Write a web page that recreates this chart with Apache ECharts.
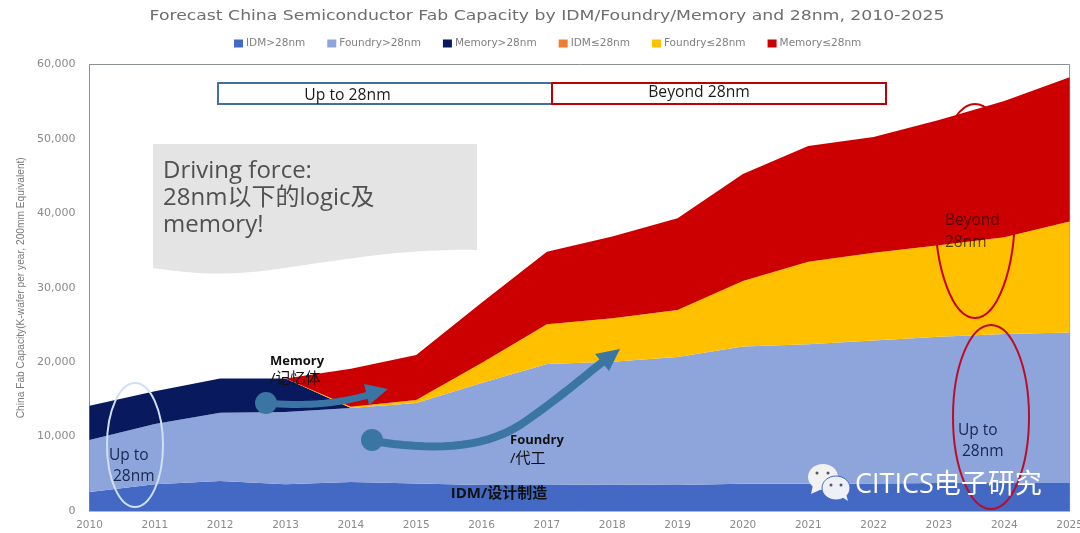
<!DOCTYPE html>
<html>
<head>
<meta charset="utf-8">
<style>html,body{margin:0;padding:0;background:#fff}#c{width:1080px;height:533px}</style>
<script src="https://cdn.jsdelivr.net/npm/echarts@6/dist/echarts.min.js"></script>
</head>
<body>
<div id="c"></div>
<script>
const years = ['2010','2011','2012','2013','2014','2015','2016','2017','2018','2019','2020','2021','2022','2023','2024','2025'];
const idmAbove = [2550,3600,4030,3590,3900,3700,3500,3500,3550,3500,3650,3650,3700,3750,3750,3760];
const foundryAbove = [6990,8100,9170,9710,9950,10800,13700,16260,16500,17200,18450,18750,19200,19650,20050,20240];
const memoryAbove = [4610,4400,4600,4500,0,0,0,0,0,0,0,0,0,0,0,0];
const idmBelow = [0,0,0,0,0,0,0,0,0,0,0,0,0,0,0,0];
const foundryBelow = [0,0,0,0,150,400,2700,5340,5850,6300,8800,11100,11800,12300,13000,14900];
const memoryBelow = [0,0,0,0,5100,6050,8100,9750,11000,12350,14400,15550,15550,16850,18300,19400];
const seriesNames = ['IDM>28nm','Foundry>28nm','Memory>28nm','IDM≤28nm','Foundry≤28nm','Memory≤28nm'];
const seriesColors = ['#4469c4','#8ea5dc','#08195e','#ed7d31','#ffc000','#cc0000'];
const seriesValues = [idmAbove,foundryAbove,memoryAbove,idmBelow,foundryBelow,memoryBelow];
const titleText = 'Forecast China Semiconductor Fab Capacity by IDM/Foundry/Memory and 28nm, 2010-2025';

const uiFont = '"Open Sans","Noto Sans CJK SC",sans-serif';
function label(text,x,y,size,color,weight,align,opacity){
  return {type:'text',z:50,x:x,y:y,style:{text:text,fontSize:size,fontFamily:uiFont,fill:color,fontWeight:weight||'normal',
    align:align||'left',verticalAlign:'middle',opacity:opacity==null?1:opacity}};
}
function ring(cx,cy,rx,ry,color,w){
  return {type:'ellipse',z:40,shape:{cx:cx,cy:cy,rx:rx,ry:ry},style:{fill:null,stroke:color,lineWidth:w||2}};
}
// flatten a chain of cubic curves (start, then [c1,c2,end] triples) into points for decorative annotations
function curve(start,segs){
  const pts=[start];let p=start;
  segs.forEach(s=>{
    for(let k=1;k<=16;k++){const t=k/16,u=1-t;
      pts.push([0,1].map(d=>u*u*u*p[d]+3*u*u*t*s[0][d]+3*u*t*t*s[1][d]+t*t*t*s[2][d]));}
    p=s[2];
  });
  return pts;
}
const arrowBlue = '#3a75a3';
const overlays = [
  {type:'text',z:50,x:547,y:16.5,scaleX:1.19,style:{text:titleText,fontSize:14.5,fontFamily:'"DejaVu Sans",sans-serif',fill:'#6e6e6e',align:'center',verticalAlign:'middle'}},
  {type:'rect',z:30,shape:{x:218,y:83,width:334,height:21},style:{fill:'#fff',stroke:'#41719c',lineWidth:2}},
  {type:'rect',z:31,shape:{x:552,y:83,width:334,height:21},style:{fill:'#fff',stroke:'#c00000',lineWidth:2}},
  label('Up to 28nm',347.5,96,15.7,'#1a1a1a','normal','center'),
  label('Beyond 28nm',699,93,15.7,'#1a1a1a','normal','center'),
  {type:'polygon',z:30,shape:{points:[[153,144],[477,144]].concat(curve([477,250],[[[400,248],[330,262],[270,270]],[[220,277],[180,272],[153,268]]]))},style:{fill:'#e4e4e4'}},
  label('Driving force:',163,171,24,'#505050'),
  label('28nm以下的logic及',163,198,24,'#505050'),
  label('memory!',163,225,24,'#505050'),
  ring(135,445,28,62,'#cfe0f5',2),
  ring(975,211,40,107,'#c80000',2),
  ring(991,417,38,92,'#bb0d2a',2),
  label('Up to',109,456,15.5,'#16264f'),
  label('28nm',113,477,15.5,'#16264f'),
  label('Up to',958,431,15.5,'#16264f'),
  label('28nm',962,452,15.5,'#16264f'),
  label('Beyond',945,221,15.5,'#000','normal','left',0.6),
  label('28nm',945,243,15.5,'#000','normal','left',0.65),
  label('Memory',270,361,13,'#111','bold'),
  label('/记忆体',270,379,15,'#111','normal'),
  label('Foundry',510,440,13,'#111','bold'),
  label('/代工',510,459,15,'#111','normal'),
  label('IDM/设计制造',499,494,15,'#111','bold','center'),
  {type:'polyline',z:41,shape:{points:curve([266,403],[[[300,406],[335,405],[372,394]]])},style:{fill:null,stroke:arrowBlue,lineWidth:7}},
  {type:'polygon',z:41,shape:{points:[[364,384],[388,389],[369,405]]},style:{fill:arrowBlue}},
  {type:'circle',z:42,shape:{cx:266,cy:403,r:11},style:{fill:arrowBlue}},
  {type:'polyline',z:41,shape:{points:curve([372,441],[[[430,450],[480,450],[520,425]],[[550,405],[580,380],[605,360]]])},style:{fill:null,stroke:arrowBlue,lineWidth:8}},
  {type:'polygon',z:41,shape:{points:[[595,354],[620,349],[609,371]]},style:{fill:arrowBlue}},
  {type:'circle',z:42,shape:{cx:372,cy:440,r:11},style:{fill:arrowBlue}},
  {type:'ellipse',z:45,shape:{cx:823,cy:477,rx:15,ry:13},style:{fill:'#f2f2f2'}},
  {type:'polygon',z:45,shape:{points:[[813,485],[811,494],[822,489]]},style:{fill:'#f2f2f2'}},
  {type:'ellipse',z:46,shape:{cx:836,cy:488,rx:14,ry:12},style:{fill:'#eef0f8',stroke:'#4469c4',lineWidth:1}},
  {type:'polygon',z:46,shape:{points:[[842,497],[848,501],[846,494]]},style:{fill:'#eef0f8'}},
  {type:'circle',z:47,shape:{cx:817,cy:473,r:1.5},style:{fill:'#556'}},
  {type:'circle',z:47,shape:{cx:828,cy:473,r:1.5},style:{fill:'#556'}},
  {type:'circle',z:47,shape:{cx:831,cy:485,r:1.5},style:{fill:'#556'}},
  {type:'circle',z:47,shape:{cx:841,cy:485,r:1.5},style:{fill:'#556'}},
  label('CITICS电子研究',855,485,27,'#fff')
];

const chart = echarts.init(document.getElementById('c'),null,{renderer:'canvas'});
chart.setOption({
  animation:false,
  backgroundColor:'#fff',
  legend:{data:seriesNames,left:234,top:38,padding:0,itemWidth:9,itemHeight:8,itemGap:22,icon:'rect',
    textStyle:{fontFamily:'"DejaVu Sans",sans-serif',fontSize:10.5,color:'#808080',padding:[0,0,0,-2]}},
  grid:{left:89.5,right:10.4,top:64.5,height:446.5,show:true,borderColor:'#8a8f94',borderWidth:1,backgroundColor:'#fff',containLabel:false,outerBoundsMode:'none'},
  xAxis:{type:'category',data:years,boundaryGap:false,
    axisLine:{show:true,lineStyle:{color:'#b5b5b5'}},axisTick:{show:false},
    axisLabel:{interval:0,hideOverlap:false,margin:9,fontFamily:'"DejaVu Sans",sans-serif',fontSize:10.5,color:'#8a8a8a'}},
  yAxis:{type:'value',min:0,max:60000,interval:10000,
    name:'China Fab Capacity(K-wafer per year, 200mm Equivalent)',nameLocation:'middle',nameGap:59,nameRotate:90,
    nameTextStyle:{fontFamily:'"Liberation Sans",sans-serif',fontSize:10.2,color:'#7a7a7a'},
    axisLine:{show:true,lineStyle:{color:'#8a8f94'}},axisTick:{show:false},splitLine:{show:false},
    axisLabel:{margin:14,fontFamily:'"DejaVu Sans",sans-serif',fontSize:11,color:'#8a8a8a',
      formatter:v=>v.toLocaleString('en-US')}},
  series:seriesNames.map((n,i)=>({
    name:n,type:'line',stack:'total',data:seriesValues[i],symbol:'none',showSymbol:false,
    lineStyle:{width:0},areaStyle:{color:seriesColors[i],opacity:1},itemStyle:{color:seriesColors[i]}
  })),
  graphic:{elements:overlays}
});
</script>
</body>
</html>
